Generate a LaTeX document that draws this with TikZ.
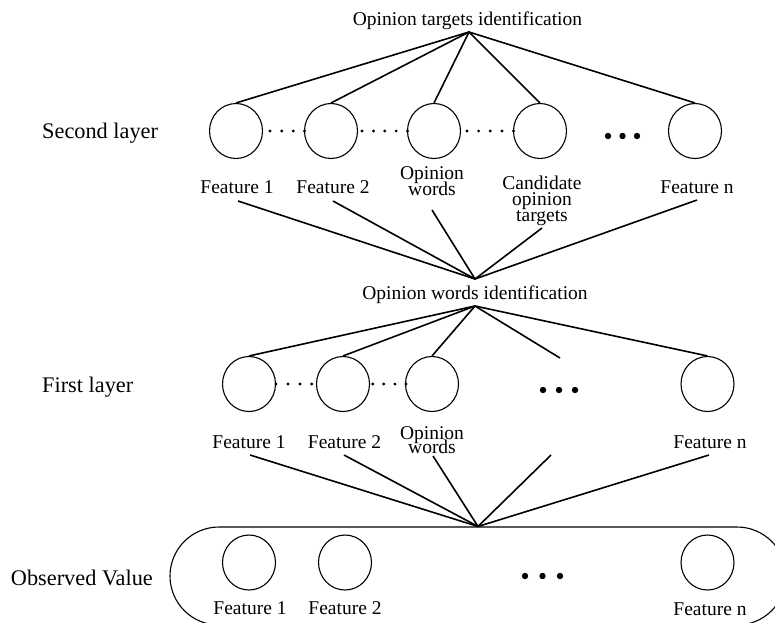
\documentclass[tikz,border=0pt]{standalone}
\usepackage{fontspec}
\setmainfont{Liberation Serif}
\usetikzlibrary{shapes.geometric}
\begin{document}
\begin{tikzpicture}[x=1pt,y=-1pt,
  unit/.style={draw,ellipse,line width=1.1pt,minimum width=53pt,minimum height=55pt,inner sep=0pt},
  lbl/.style={font={\fontsize{19.5}{16}\selectfont\lineskiplimit=-30pt},inner sep=0pt,align=center},
  side/.style={font=\fontsize{22.3}{26}\selectfont,inner sep=0pt},
  conn/.style={line width=1.6pt},
  sdot/.style={fill=black},
]
\useasboundingbox (0,0) rectangle (775,622);

% ---- titles and side labels
\node[lbl,anchor=base] (t2) at (467.5,25) {Opinion targets identification};
\node[lbl,anchor=base] (t1) at (475,299) {Opinion words identification};
\node[side,anchor=base west] (L2) at (42,138) {Second layer};
\node[side,anchor=base west] (L1) at (42,392) {First layer};
\node[side,anchor=base east] (L0) at (153,585) {Observed Value};

% ---- second layer
\node[unit] (s1) at (236,131) {};
\node[unit] (s2) at (331,131) {};
\node[unit] (s3) at (434,131) {};
\node[unit] (s4) at (540,131) {};
\node[unit] (s5) at (695,131) {};
\foreach \x in {270,281.7,293.3,304.5} \fill[sdot] (\x,131) circle[radius=1.6pt];
\foreach \x in {362,373.4,384.8,396.1,407.5} \fill[sdot] (\x,131) circle[radius=1.6pt];
\foreach \x in {467,478.6,490.2,501.9,513.5} \fill[sdot] (\x,131) circle[radius=1.6pt];
\foreach \x in {608,622.5,637} \fill[sdot] (\x,136) circle[radius=3.2pt];

\node[lbl,anchor=base] (sl1) at (237,193) {Feature 1};
\node[lbl,anchor=base] (sl2) at (333,193) {Feature 2};
\node[lbl,anchor=north] (sl3) at (432,166.7) {Opinion\\words};
\node[lbl,anchor=north] (sl4) at (542,175.7) {Candidate\\opinion\\targets};
\node[lbl,anchor=base] (sl5) at (697,193) {Feature n};

\coordinate (A1) at (469,32);
\foreach \n in {s1,s2,s3,s4,s5} \draw[conn] (A1) -- (\n.north);

\coordinate (sb1) at (238,201);
\coordinate (sb2) at (333,201);
\coordinate (sb3) at (432,210);
\coordinate (sb4) at (542,228);
\coordinate (sb5) at (697,200);
\coordinate (C2) at (475,279);
\foreach \n in {sb1,sb2,sb3,sb4,sb5} \draw[conn] (\n) -- (C2);

% ---- first layer
\node[unit] (f1) at (249,384) {};
\node[unit] (f2) at (343,384) {};
\node[unit] (f3) at (432,384) {};
\node[unit] (f5) at (707.5,384) {};
\foreach \x in {276,288,300,311.7} \fill[sdot] (\x,384) circle[radius=1.6pt];
\foreach \x in {372.7,383.8,394.9,406} \fill[sdot] (\x,384) circle[radius=1.6pt];
\foreach \x in {543,559,575} \fill[sdot] (\x,390) circle[radius=3.2pt];

\coordinate (A2) at (475,306);
\coordinate (fe) at (560,358);
\foreach \n in {f1,f2,f3,f5} \draw[conn] (A2) -- (\n.north);
\draw[conn] (A2) -- (fe);

\node[lbl,anchor=base] (fl1) at (249,448) {Feature 1};
\node[lbl,anchor=base] (fl2) at (344.5,448) {Feature 2};
\node[lbl,anchor=north,font={\fontsize{19.5}{14}\selectfont\lineskiplimit=-30pt}] (fl3) at (432,426) {Opinion\\words};
\node[lbl,anchor=base] (fl5) at (710,448) {Feature n};

% ---- observed values
\node[draw,line width=1.1pt,rounded corners=49pt,minimum width=616pt,minimum height=98pt,inner sep=0pt] (box) at (478,576) {};
\node[unit] (o1) at (249,562.5) {};
\node[unit] (o2) at (345,562.5) {};
\node[unit] (o5) at (707.5,562.5) {};
\foreach \x in {525,542.5,560} \fill[sdot] (\x,576) circle[radius=3.2pt];
\node[lbl,anchor=base] (ol1) at (250,614) {Feature 1};
\node[lbl,anchor=base] (ol2) at (345,614) {Feature 2};
\node[lbl,anchor=base] (ol5) at (710,615) {Feature n};

\coordinate (fb1) at (250,455);
\coordinate (fb2) at (344,455);
\coordinate (fb3) at (433,456);
\coordinate (fb4) at (551,455);
\coordinate (fb5) at (709,455);
\foreach \n in {fb1,fb2,fb3,fb4,fb5} \draw[conn] (\n) -- (box.north);
\end{tikzpicture}
\end{document}
